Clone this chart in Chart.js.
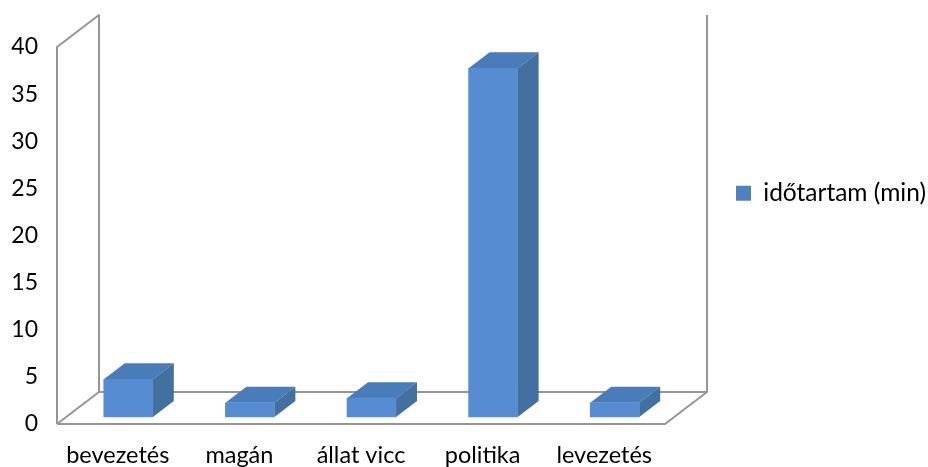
<!DOCTYPE html>
<html>
<head>
<meta charset="utf-8">
<style>html,body{margin:0;padding:0;background:#fff}canvas{display:block}</style>
<script src="https://cdn.jsdelivr.net/npm/chart.js@4"></script>
</head>
<body>
<canvas id="c" width="928" height="467"></canvas>
<script>
const categories = ['bevezetés', 'magán', 'állat vicc', 'politika', 'levezetés'];
const seriesName = 'időtartam (min)';
const values = [4, 1.5, 2, 37, 1.5];
const yTicks = [0, 5, 10, 15, 20, 25, 30, 35, 40];

const wallDepth = { x: 42, y: -32 };
const barShift = { x: 10.5, y: -7 };
const barDepth = { x: 21, y: -16 };
const colors = { front: '#568dd2', top: '#4a7cb9', side: '#44709f', legend: '#4f81bd', wall: '#969696', text: '#000000' };
const fontFamily = 'Lato, Carlito, sans-serif';

const walls3d = {
  id: 'walls3d',
  afterLayout(chart) {
    const l = chart.legend;
    l.left = 728; l.right = 928; l.top = 173; l.bottom = 208;
  },
  beforeDatasetsDraw(chart) {
    const { ctx } = chart;
    const x = chart.scales.x, y = chart.scales.y;
    const l = x.left, r = x.right, t = y.getPixelForValue(40), b = y.getPixelForValue(0);
    const dx = wallDepth.x, dy = wallDepth.y;
    ctx.save();
    ctx.strokeStyle = colors.wall;
    ctx.lineWidth = 2;
    ctx.lineJoin = 'round';
    ctx.beginPath();
    ctx.moveTo(l, b); ctx.lineTo(l, t); ctx.lineTo(l + dx, t + dy); ctx.lineTo(l + dx, b + dy);
    ctx.lineTo(r + dx, b + dy); ctx.lineTo(r + dx, t + dy);
    ctx.moveTo(l, b); ctx.lineTo(l + dx, b + dy);
    ctx.moveTo(l, b); ctx.lineTo(r, b); ctx.lineTo(r + dx, b + dy);
    ctx.stroke();
    ctx.restore();
  },
  beforeDatasetDraw(chart, args) {
    const { ctx } = chart;
    ctx.save();
    ctx.translate(barShift.x, barShift.y);
    chart.getDatasetMeta(args.index).data.forEach(el => {
      const p = el.getProps(['x', 'y', 'base', 'width'], true);
      const L = p.x - p.width / 2, R = p.x + p.width / 2;
      ctx.fillStyle = colors.top;
      ctx.beginPath();
      ctx.moveTo(L, p.y); ctx.lineTo(L + barDepth.x, p.y + barDepth.y);
      ctx.lineTo(R + barDepth.x, p.y + barDepth.y); ctx.lineTo(R, p.y);
      ctx.closePath(); ctx.fill();
      ctx.fillStyle = colors.side;
      ctx.beginPath();
      ctx.moveTo(R, p.y); ctx.lineTo(R + barDepth.x, p.y + barDepth.y);
      ctx.lineTo(R + barDepth.x, p.base + barDepth.y); ctx.lineTo(R, p.base);
      ctx.closePath(); ctx.fill();
    });
  },
  afterDatasetDraw(chart) {
    chart.ctx.restore();
  }
};

new Chart(document.getElementById('c'), {
  type: 'bar',
  data: {
    labels: categories,
    datasets: [{
      label: seriesName,
      data: values,
      backgroundColor: colors.front,
      borderWidth: 0,
      barThickness: 49,
      clip: false
    }]
  },
  plugins: [walls3d],
  options: {
    responsive: false,
    animation: false,
    devicePixelRatio: 1,
    layout: { padding: { left: 0, right: 263, top: 47, bottom: 0 } },
    plugins: {
      title: { display: false },
      tooltip: { enabled: false },
      legend: {
        display: true,
        position: 'chartArea',
        align: 'start',
        labels: {
          boxWidth: 15,
          boxHeight: 15,
          padding: 8,
          color: colors.text,
          font: { family: fontFamily, size: 24.5 },
          generateLabels: c => [{
            text: c.data.datasets[0].label,
            fillStyle: colors.legend,
            strokeStyle: colors.legend,
            lineWidth: 0,
            fontColor: colors.text,
            datasetIndex: 0
          }]
        }
      }
    },
    scales: {
      x: {
        grid: { display: false },
        border: { display: false },
        ticks: { color: colors.text, padding: 9, font: { family: fontFamily, size: 23.5 }, maxRotation: 0 },
        afterFit: s => { s.height = 43; }
      },
      y: {
        min: 0,
        max: 40,
        grid: { display: false },
        border: { display: false },
        afterBuildTicks: s => { s.ticks = yTicks.map(v => ({ value: v })); },
        ticks: { color: colors.text, padding: 11, font: { family: fontFamily, size: 23 } },
        afterFit: s => { s.width = 57; }
      }
    }
  }
});
</script>
</body>
</html>
